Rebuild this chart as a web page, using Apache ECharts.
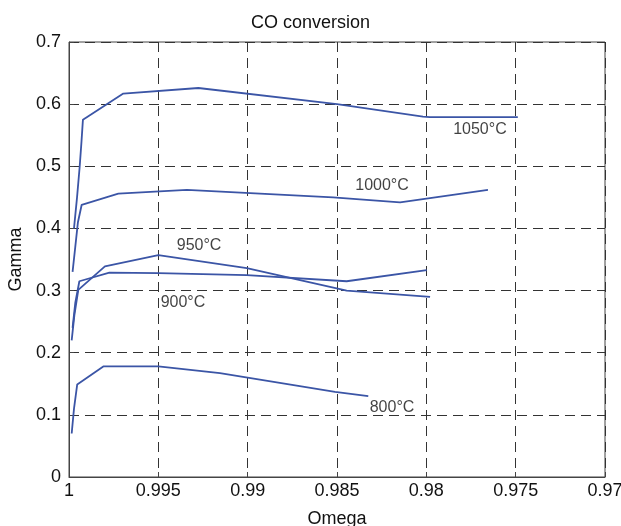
<!DOCTYPE html>
<html>
<head>
<meta charset="utf-8">
<script src="https://cdn.jsdelivr.net/npm/echarts@6/dist/echarts.min.js"></script>
<style>
  html, body { margin: 0; padding: 0; background: #fff; }
  #chart { width: 621px; height: 526px; }
</style>
</head>
<body>
<div id="chart"></div>
<script>
// omega / gamma pairs
var c800 = [[0.99985, 0.07], [0.99972, 0.11], [0.99954, 0.149], [0.99808, 0.178], [0.99500, 0.178], [0.99155, 0.167], [0.98511, 0.137], [0.98325, 0.130]];
var c900 = [[0.9998, 0.24], [0.99965, 0.28], [0.99942, 0.315], [0.99774, 0.329], [0.99500, 0.328], [0.99005, 0.325], [0.98446, 0.315], [0.97998, 0.333]];
var c950 = [[0.99985, 0.22], [0.9997, 0.26], [0.99948, 0.301], [0.99799, 0.339], [0.99500, 0.357], [0.99005, 0.336], [0.98446, 0.300], [0.97979, 0.290]];
var c1000 = [[0.9998, 0.33], [0.99965, 0.37], [0.9995, 0.41], [0.99929, 0.438], [0.99724, 0.456], [0.99340, 0.462], [0.98522, 0.450], [0.98147, 0.442], [0.97655, 0.462]];
var c1050 = [[0.99972, 0.40], [0.99955, 0.45], [0.9994, 0.50], [0.9993, 0.54], [0.99922, 0.575], [0.99696, 0.617], [0.99276, 0.626], [0.98500, 0.600], [0.98019, 0.580], [0.97980, 0.579], [0.97488, 0.579]];
var labelNames = ['1050°C', '1000°C', '950°C', '900°C', '800°C'];
var labelPos = [[0.97700, 0.560], [0.98248, 0.470], [0.99272, 0.374], [0.99362, 0.282], [0.98192, 0.114]];
var xTicks = ['1', '0.995', '0.99', '0.985', '0.98', '0.975', '0.97'];

var myChart = echarts.init(document.getElementById('chart'));

function curve(data) {
    return {
        type: 'line',
        data: data,
        showSymbol: false,
        lineStyle: { color: '#3b55a6', width: 1.8 },
        itemStyle: { color: '#3b55a6' },
        animation: false
    };
}

myChart.setOption({
    animation: false,
    title: {
        text: 'CO conversion',
        left: 'center',
        top: 9,
        textStyle: { fontFamily: 'Liberation Sans', fontSize: 18, fontWeight: 'normal', color: '#111' }
    },
    grid: {
        left: 69, right: 16, top: 42, bottom: 49,
        outerBoundsMode: 'none',
        show: true, borderColor: '#444', borderWidth: 1
    },
    xAxis: {
        type: 'value',
        inverse: true,
        min: 0.97,
        max: 1,
        interval: 0.005,
        name: 'Omega',
        nameLocation: 'middle',
        nameGap: 33,
        nameTextStyle: { fontFamily: 'Liberation Sans', fontSize: 18, color: '#111' },
        axisLine: { lineStyle: { color: '#444' } },
        axisTick: { inside: true, length: 5, lineStyle: { color: '#444' } },
        axisLabel: {
            fontFamily: 'Liberation Sans', fontSize: 18, color: '#111', margin: 5,
            formatter: function (v) { return xTicks[Math.round((1 - v) / 0.005)]; }
        },
        splitLine: { show: true, lineStyle: { color: '#333', type: [10, 6], width: 1 } }
    },
    yAxis: {
        type: 'value',
        min: 0,
        max: 0.7,
        interval: 0.1,
        name: 'Gamma',
        nameLocation: 'middle',
        nameGap: 40,
        nameTextStyle: { fontFamily: 'Liberation Sans', fontSize: 18, color: '#111' },
        axisLine: { lineStyle: { color: '#444' } },
        axisTick: { inside: true, length: 5, lineStyle: { color: '#444' } },
        axisLabel: {
            fontFamily: 'Liberation Sans', fontSize: 18, color: '#111', margin: 8,
            formatter: function (v) { return parseFloat(v.toFixed(1)).toString(); }
        },
        splitLine: { show: true, lineStyle: { color: '#333', type: [10, 6], width: 1 } }
    },
    series: [
        curve(c800),
        curve(c900),
        curve(c950),
        curve(c1000),
        curve(c1050),
        {
            type: 'scatter',
            symbolSize: 0,
            itemStyle: { color: '#111' },
            data: labelPos.map(function (p, i) { return { value: p, name: labelNames[i] }; }),
            label: {
                show: true,
                position: 'top',
                distance: -9,
                formatter: '{b}',
                fontFamily: 'Liberation Sans',
                fontSize: 16,
                color: '#111',
                textBorderWidth: 0
            }
        }
    ]
});
</script>
</body>
</html>
